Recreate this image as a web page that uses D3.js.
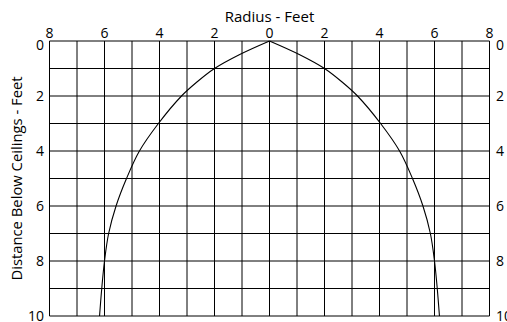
<!DOCTYPE html>
<html>
<head>
<meta charset="utf-8">
<script src="https://cdn.jsdelivr.net/npm/d3@7"></script>
<style>
  html, body { margin: 0; padding: 0; background: #fff; }
  svg { display: block; font-family: "Open Sans", sans-serif; }
</style>
</head>
<body>
<div id="chart"></div>
<script>
// data
const depthFt  = [0, 0.5, 1, 1.5, 2, 3, 4, 5, 6, 7, 8, 9, 10];
const radiusFt = [0, 1.1, 2.0, 2.65, 3.2, 4.04, 4.73, 5.2, 5.58, 5.85, 6.0, 6.1, 6.18];
const xTicks = [-8, -6, -4, -2, 0, 2, 4, 6, 8];
const yTicks = [0, 2, 4, 6, 8, 10];

const W = 507, H = 322;
const svg = d3.select('#chart').append('svg')
  .attr('width', W).attr('height', H);

const x = d3.scaleLinear().domain([-8, 8]).range([49.5, 489.5]);
const y = d3.scaleLinear().domain([0, 10]).range([41, 316]);

// grid - every foot
const grid = svg.append('g').attr('stroke', '#000').attr('stroke-width', 1);
grid.selectAll('line.v').data(d3.range(-8, 9)).join('line')
  .attr('class', 'v')
  .attr('x1', d => x(d)).attr('x2', d => x(d))
  .attr('y1', y(0)).attr('y2', y(10));
grid.selectAll('line.h').data(d3.range(0, 11)).join('line')
  .attr('class', 'h')
  .attr('y1', d => y(d)).attr('y2', d => y(d))
  .attr('x1', x(-8)).attr('x2', x(8));

// tick labels
const lab = svg.append('g').attr('font-size', 14).attr('fill', '#000');
lab.selectAll('text.top').data(xTicks).join('text')
  .attr('class', 'top')
  .attr('x', d => x(d)).attr('y', 38)
  .attr('text-anchor', 'middle')
  .text(d => Math.abs(d));
lab.selectAll('text.left').data(yTicks).join('text')
  .attr('class', 'left')
  .attr('x', 44).attr('y', d => y(d) + (d === 0 ? 9 : 5))
  .attr('text-anchor', 'end')
  .text(d => d);
lab.selectAll('text.right').data(yTicks).join('text')
  .attr('class', 'right')
  .attr('x', 496).attr('y', d => y(d) + (d === 0 ? 9 : 5))
  .attr('text-anchor', 'start')
  .text(d => d);

// axis titles
svg.append('text')
  .attr('x', x(0)).attr('y', 21.5)
  .attr('text-anchor', 'middle')
  .attr('font-size', 15)
  .text('Radius - Feet');
svg.append('text')
  .attr('transform', `translate(22,${(y(0) + y(10)) / 2}) rotate(-90)`)
  .attr('text-anchor', 'middle')
  .attr('font-size', 14.8)
  .text('Distance Below Ceilings - Feet');

// spray profile, mirrored on both sides of the centre
const pts = depthFt.map((d, i) => ({ d, r: radiusFt[i] }));
const line = d3.line().curve(d3.curveCatmullRom.alpha(0.5));
[1, -1].forEach(s => {
  svg.append('path')
    .attr('d', line(pts.map(p => [x(s * p.r), y(p.d)])))
    .attr('fill', 'none')
    .attr('stroke', '#000')
    .attr('stroke-width', 1.1);
});
</script>
</body>
</html>
